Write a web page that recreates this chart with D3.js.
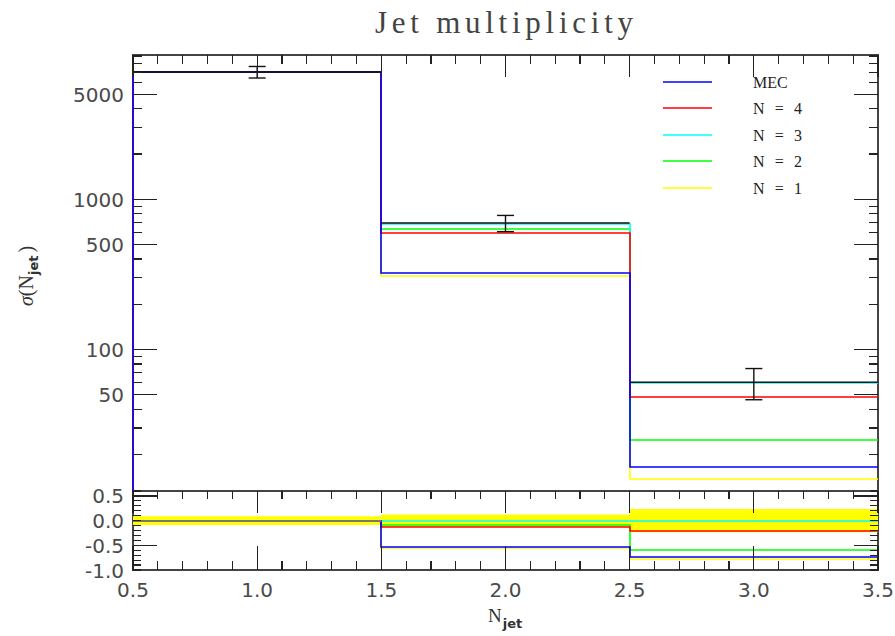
<!DOCTYPE html>
<html>
<head>
<meta charset="utf-8">
<script src="https://cdn.jsdelivr.net/npm/d3@7"></script>
<style>
  html, body { margin: 0; padding: 0; background: #fff; }
  svg { display: block; }
</style>
</head>
<body>
<script>
// ---- data -------------------------------------------------------------
const binEdges   = [0.5, 1.5, 2.5, 3.5];
const binCentres = [1.0, 2.0, 3.0];

const dataValues = [7040, 695, 60.5];
const dataErrors = [620, 86, 14.2];

const mecValues = [7040, 321, 16.4];
const n4Values  = [7040, 600, 48.1];
const n3Values  = [7040, 690, 59.6];
const n2Values  = [7040, 637, 25.1];
const n1Values  = [7040, 310, 13.7];

const seriesNames  = ["MEC", "N = 4", "N = 3", "N = 2", "N = 1"];
const seriesValues = [mecValues, n4Values, n3Values, n2Values, n1Values];
const seriesColors = ["#0000ff", "#ff0000", "#00ffff", "#00ff00", "#ffff00"];
// drawing order, bottom to top
const drawOrder = [4, 3, 2, 1, 0];

const xTickLabels      = [0.5, 1.0, 1.5, 2.0, 2.5, 3.0, 3.5];
const yMainTickLabels  = [50, 100, 500, 1000, 5000];
const yRatioTickLabels = [0.5, 0.0, -0.5, -1.0];

const title = "Jet multiplicity";
const normBin = 0;   // MC samples are normalised to the data in this bin

// ---- layout -----------------------------------------------------------
const W = 895, H = 636;
const L = 133, R = 878;
const mainTop = 55, mainBottom = 491;
const ratioTop = 491, ratioBottom = 570;

const svg = d3.select("body").append("svg")
  .attr("width", W).attr("height", H);

const x = d3.scaleLinear().domain([0.5, 3.5]).range([L, R]);
const y = d3.scaleLog().domain([11.43, 9135]).range([mainBottom, mainTop]);
const yr = d3.scaleLinear().domain([-1.0, 0.6]).range([ratioBottom, ratioTop]);

const frameColor = "#444";
const labelFont = "'DejaVu Sans', sans-serif";
const serifFont = "'Liberation Serif', 'DejaVu Serif', serif";
const snap = v => Math.round(v);   // whole-pixel positions for the histogram strokes
const mcWidth = 1.6;

// ---- frames -----------------------------------------------------------
[[mainTop, mainBottom], [ratioTop, ratioBottom]].forEach(([t, b]) => {
  svg.append("rect").attr("x", L).attr("y", t)
    .attr("width", R - L).attr("height", b - t)
    .attr("fill", "none").attr("stroke", frameColor).attr("stroke-width", 1.5)
    .attr("shape-rendering", "crispEdges");
});

// ---- main panel: MC histograms ---------------------------------------
const gMain = svg.append("g");

function mainStepPath(vals) {
  // starts from the panel floor at the left edge, then steps through the bins
  const p = d3.path();
  p.moveTo(snap(x(binEdges[0])), mainBottom);
  vals.forEach((v, i) => {
    p.lineTo(snap(x(binEdges[i])), snap(y(v)));
    p.lineTo(snap(x(binEdges[i + 1])), snap(y(v)));
  });
  return p.toString();
}

drawOrder.forEach(k => {
  gMain.append("path")
    .attr("d", mainStepPath(seriesValues[k]))
    .attr("fill", "none")
    .attr("stroke", seriesColors[k])
    .attr("stroke-width", mcWidth);
});

// data: horizontal bin lines with error bars
const gData = svg.append("g").attr("stroke", "#111").attr("stroke-width", 1.4);
dataValues.forEach((v, i) => {
  gData.append("line")
    .attr("x1", x(binEdges[i])).attr("x2", x(binEdges[i + 1]))
    .attr("y1", y(v)).attr("y2", y(v));
  const cx = x(binCentres[i]);
  const lo = y(v - dataErrors[i]), hi = y(v + dataErrors[i]);
  gData.append("line").attr("x1", cx).attr("x2", cx).attr("y1", lo).attr("y2", hi);
  [lo, hi].forEach(yy => gData.append("line")
    .attr("x1", cx - 8.5).attr("x2", cx + 8.5).attr("y1", yy).attr("y2", yy));
});

// ---- ratio panel ------------------------------------------------------
const gRatio = svg.append("g");

// data uncertainty band
dataValues.forEach((v, i) => {
  const e = dataErrors[i] / v;
  gRatio.append("rect")
    .attr("x", x(binEdges[i])).attr("width", x(binEdges[i + 1]) - x(binEdges[i]))
    .attr("y", yr(e)).attr("height", yr(-e) - yr(e))
    .attr("fill", "#ffff00");
});

function ratioStepPath(vals) {
  const p = d3.path();
  vals.forEach((v, i) => {
    const r = v / dataValues[i] - 1;
    const yy = snap(yr(r));
    if (i === 0) p.moveTo(snap(x(binEdges[i])), yy);
    else p.lineTo(snap(x(binEdges[i])), yy);
    p.lineTo(snap(x(binEdges[i + 1])), yy);
  });
  return p.toString();
}

drawOrder.forEach(k => {
  gRatio.append("path")
    .attr("d", ratioStepPath(seriesValues[k]))
    .attr("fill", "none")
    .attr("stroke", seriesColors[k])
    .attr("stroke-width", mcWidth);
});

// reference line in the normalisation bin
const r0 = dataValues[normBin] / dataValues[normBin] - 1;
gRatio.append("line")
  .attr("x1", x(binEdges[normBin])).attr("x2", x(binEdges[normBin + 1]))
  .attr("y1", snap(yr(r0))).attr("y2", snap(yr(r0)))
  .attr("stroke", "#777").attr("stroke-width", 2);

// ---- ticks ------------------------------------------------------------
const gTicks = svg.append("g").attr("stroke", "#222").attr("stroke-width", 1.2)
  .attr("shape-rendering", "crispEdges");
function tick(x1, y1, x2, y2) {
  gTicks.append("line").attr("x1", x1).attr("y1", y1).attr("x2", x2).attr("y2", y2);
}
const near = (a, b) => Math.abs(a - b) < 1e-6;

// x ticks every 0.1, longer at the labelled values
d3.range(5, 36).map(d => d / 10).forEach(v => {
  const major = xTickLabels.some(t => near(t, v));
  const xx = x(v);
  tick(xx, mainTop, xx, mainTop + (major ? 22 : 9));
  tick(xx, ratioTop, xx, ratioTop + (major ? 22 : 8));
  tick(xx, ratioBottom, xx, ratioBottom - (major ? 24 : 9));
});

// log ticks on the main panel
const [ylo, yhi] = y.domain();
[10, 100, 1000].forEach(dec => {
  d3.range(1, 10).forEach(k => {
    const v = k * dec;
    if (v < ylo || v > yhi) return;
    const major = yMainTickLabels.includes(v);
    const len = major ? 24 : 9;
    tick(L, y(v), L + len, y(v));
    tick(R, y(v), R - len, y(v));
  });
});

// linear ticks on the ratio panel
d3.range(-10, 7).map(d => d / 10).forEach(v => {
  const major = near(v, 0.5) || near(v, -0.5);
  const len = major ? 24 : 8;
  tick(L, yr(v), L + len, yr(v));
  tick(R, yr(v), R - len, yr(v));
});

// ---- labels -----------------------------------------------------------
const gLab = svg.append("g")
  .attr("font-family", labelFont).attr("font-size", 20).attr("fill", "#4a4a4a");

xTickLabels.forEach(v => {
  gLab.append("text").attr("x", x(v)).attr("y", 597)
    .attr("text-anchor", "middle").text(d3.format(".1f")(v));
});
yMainTickLabels.forEach(v => {
  gLab.append("text").attr("x", 124).attr("y", y(v) + 7.5)
    .attr("text-anchor", "end").text(v);
});
yRatioTickLabels.forEach(v => {
  gLab.append("text").attr("x", 124).attr("y", yr(v) + 7.5)
    .attr("text-anchor", "end").text(d3.format(".1f")(v).replace("\u2212", "-"));
});

// title
svg.append("text").attr("x", 375).attr("y", 33)
  .attr("font-family", serifFont).attr("font-size", 31).attr("fill", "#444")
  .attr("textLength", 258).attr("lengthAdjust", "spacing")
  .text(title);

// x axis label
const xl = svg.append("text").attr("x", 488).attr("y", 622)
  .attr("font-family", serifFont).attr("font-size", 19).attr("fill", "#333");
xl.append("tspan").text("N");
xl.append("tspan").attr("dy", 6).attr("dx", 1)
  .attr("font-family", labelFont).attr("font-weight", "bold").attr("font-size", 13)
  .text("jet");

// y axis label (rotated)
const yl = svg.append("text")
  .attr("transform", "translate(33,306) rotate(-90)")
  .attr("font-family", serifFont).attr("font-size", 20).attr("fill", "#333");
yl.append("tspan").attr("font-style", "italic").text("σ");
yl.append("tspan").text("(N");
yl.append("tspan").attr("dy", 5)
  .attr("font-family", labelFont).attr("font-weight", "bold").attr("font-size", 13)
  .text("jet");
yl.append("tspan").attr("dy", -5).attr("dx", 3).text(")");

// ---- legend -----------------------------------------------------------
const gLeg = svg.append("g");
seriesNames.forEach((name, i) => {
  const yy = 82 + i * 26.4;
  gLeg.append("line").attr("x1", 663).attr("x2", 712)
    .attr("y1", snap(yy)).attr("y2", snap(yy))
    .attr("stroke", seriesColors[i]).attr("stroke-width", mcWidth);
  const t = gLeg.append("text").attr("x", 753).attr("y", yy + 6)
    .attr("font-family", serifFont).attr("font-size", 16).attr("fill", "#222")
    .text(name);
  if (name.startsWith("N")) t.attr("textLength", 49).attr("lengthAdjust", "spacing");
});
</script>
</body>
</html>
